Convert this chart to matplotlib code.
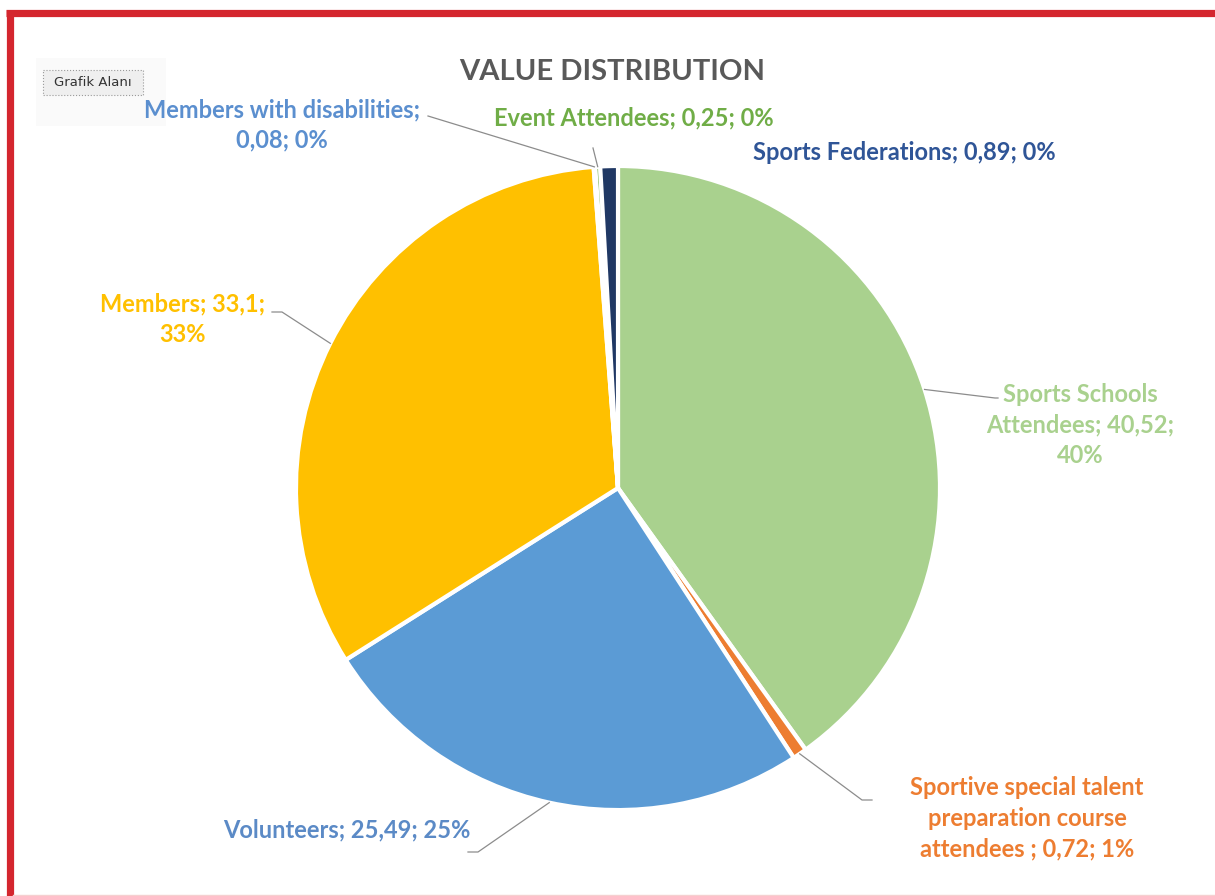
# value distribution pie, excel-style screenshot
import numpy as np
import matplotlib
matplotlib.use("Agg")
import matplotlib.pyplot as plt
from matplotlib.patches import FancyBboxPatch, Rectangle

W, H = 1215, 896

# data (clockwise from 12 o'clock, as in the original)
names = ["Sports Schools Attendees", "Sportive special talent preparation course attendees",
         "Volunteers", "Members", "Members with disabilities", "Event Attendees",
         "Sports Federations"]
values = [40.52, 0.72, 25.49, 33.1, 0.08, 0.25, 0.89]
pcts = ["40%", "1%", "25%", "33%", "0%", "0%", "0%"]
labels = ["Sports Schools\nAttendees; 40,52;\n40%",
          "Sportive special talent\npreparation course\nattendees ; 0,72; 1%",
          "Volunteers; 25,49; 25%",
          "Members; 33,1;\n33%",
          "Members with disabilities;\n0,08; 0%",
          "Event Attendees; 0,25; 0%",
          "Sports Federations; 0,89; 0%"]
slice_colors = ["#A9D18E", "#ED7D31", "#5B9BD5", "#FFC000", "#9DC3E6", "#70AD47", "#203864"]
label_colors = ["#A9D18E", "#ED7D31", "#5B8AC6", "#FFC000", "#5B8FCF", "#70AD47", "#2F5597"]
explode = [0, 0, 0.045, 0.025, 0, 0, 0]

# label placement (pixel coords, y down): text centre, leader elbow, leader end
label_pos = [(1080, 425), (1027, 818), (347, 830), (183, 319), (282, 125), (634, 118), (904, 152)]
elbow = [(995, 398), (862, 800), (478, 852), (282, 312), (428, 116), (593, 148), None]
lead_end = [(998, 398), (872, 800), (468, 852), (272, 312), (428, 116), (593, 148), None]

fig = plt.figure(figsize=(W / 100, H / 100), dpi=100)
ax = fig.add_axes([0, 0, 1, 1])

wedges, _ = ax.pie(values, colors=slice_colors, explode=explode, startangle=-90,
                   counterclock=True, center=(618, 488), radius=322,
                   wedgeprops=dict(edgecolor="white", linewidth=3))
ax.set_aspect("equal")
ax.set_xlim(0, W)
ax.set_ylim(H, 0)
ax.axis("off")

# leader lines from slice edge to label
for w, e, le in zip(wedges, elbow, lead_end):
    if e is None:
        continue
    mid = np.deg2rad((w.theta1 + w.theta2) / 2)
    px = w.center[0] + w.r * np.cos(mid)
    py = w.center[1] + w.r * np.sin(mid)
    ax.plot([px, e[0], le[0]], [py, e[1], le[1]], color="#8c8c8c", lw=0.9, zorder=1)

for lab, pos, c in zip(labels, label_pos, label_colors):
    ax.text(pos[0], pos[1], lab, ha="center", va="center", color=c, fontsize=17,
            fontweight="bold", family="Lato", linespacing=1.4)

ax.text(612, 72, "VALUE DISTRIBUTION", ha="center", va="center", color="#595959",
        fontsize=21, fontweight="bold", family="Lato")

# "Grafik Alanı" tooltip
ax.add_patch(Rectangle((36, 58), 130, 68, facecolor="#fafafa", edgecolor="none", zorder=2))
ax.add_patch(FancyBboxPatch((43, 70), 100, 25, boxstyle="square,pad=0", facecolor="#efefef",
                            edgecolor="#9a9a9a", linestyle=":", lw=0.8, zorder=3))
ax.text(93, 83, "Grafik Alanı", ha="center", va="center", fontsize=9.5, color="#333333", zorder=4)

# red frame
ax.plot([9.5, 9.5], [10, H], color="#D4262E", lw=5.2, solid_capstyle="butt", zorder=5)
ax.plot([6, W], [13.5, 13.5], color="#D4262E", lw=5.2, solid_capstyle="butt", zorder=5)
ax.plot([13, W], [895, 895], color="#f5d0d0", lw=1, zorder=5)

fig.savefig("out.png", dpi=100)
